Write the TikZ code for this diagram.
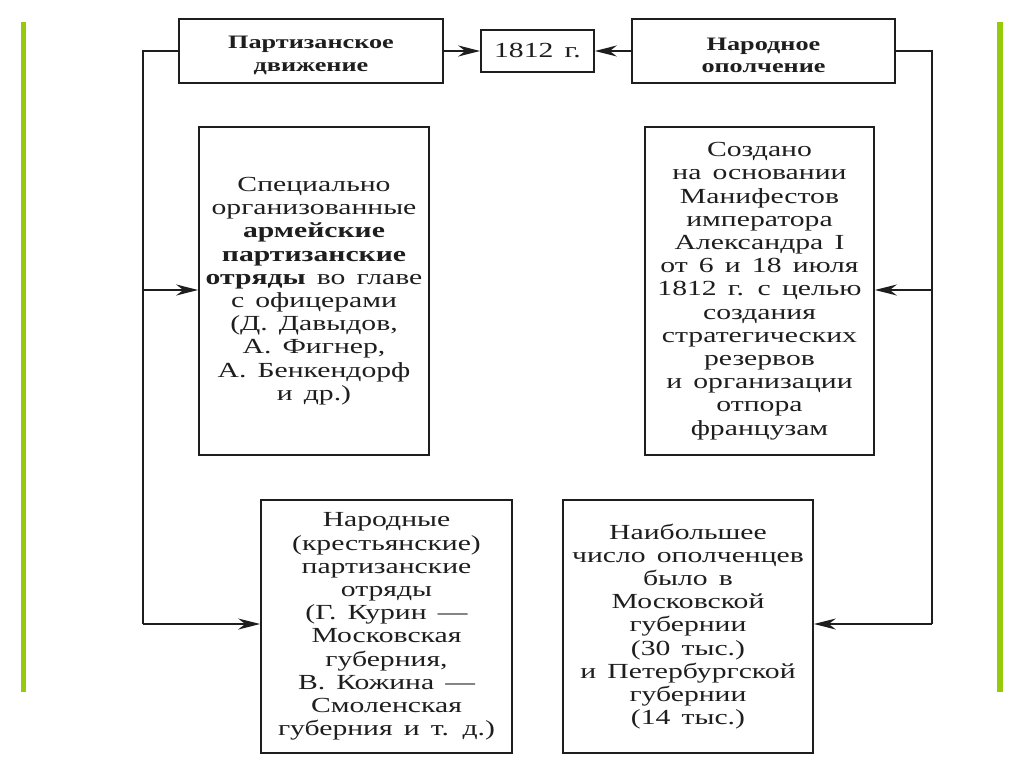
\documentclass[tikz,border=0pt]{standalone}
\usepackage{fontspec}
\setmainfont[FakeStretch=1.38,WordSpace=1.5]{Liberation Serif}
\usetikzlibrary{arrows.meta}
\definecolor{barcol}{RGB}{150,202,10}
\definecolor{ink}{RGB}{30,30,30}
\tikzset{
  box/.style={draw=ink, line width=1.6pt, inner sep=0pt, align=center, text=ink,
    font=\fontsize{21.5}{23.2}\selectfont},
  headbox/.style={box, font=\fontsize{19}{22.7}\selectfont\bfseries},
  conn/.style={draw=ink, line width=1.3pt},
  arr/.style={conn, -{Stealth[length=22pt,width=11pt,inset=7pt]}},
  bar/.style={draw=none, fill=barcol}
}
\begin{document}
\begin{tikzpicture}[x=1pt,y=-1pt]
\useasboundingbox[fill=white] (0,0) rectangle (1024,767);
\fill[barcol] (21,22) rectangle (26,692);
\fill[barcol] (997,22) rectangle (1003,692);

\node[headbox, minimum width=264pt, minimum height=64pt] (part) at (311,51) {\rule{0pt}{21pt}Партизанское\\движение};
\node[box, minimum width=113pt, minimum height=42pt] (year) at (537.5,51) {1812 г.};
\node[headbox, minimum width=263pt, minimum height=64pt] (opol) at (763.5,51) {\rule{0pt}{21pt}Народное\\ополчение};

\node[box, minimum width=230pt, minimum height=328pt] (arm) at (314,291)
  {Специально\\организованные\\\textbf{армейские}\\\textbf{партизанские}\\\textbf{отряды} во главе\\с офицерами\\(Д. Давыдов,\\А. Фигнер,\\А. Бенкендорф\\и др.)};
\node[box, minimum width=229pt, minimum height=328pt] (manif) at (759.5,291)
  {Создано\\на основании\\Манифестов\\императора\\Александра I\\от 6 и 18 июля\\1812 г. с целью\\создания\\стратегических\\резервов\\и организации\\отпора\\французам};
\node[box, minimum width=251pt, minimum height=253pt] (narod) at (386.5,626.5)
  {Народные\\(крестьянские)\\партизанские\\отряды\\(Г. Курин —\\Московская\\губерния,\\В. Кожина —\\Смоленская\\губерния и т. д.)};
\node[box, minimum width=250pt, minimum height=253pt] (naib) at (688,626.5)
  {Наибольшее\\число ополченцев\\было в\\Московской\\губернии\\(30 тыс.)\\и Петербургской\\губернии\\(14 тыс.)};

\coordinate (lt) at (143,51);
\coordinate (lm) at (143,290);
\coordinate (lb) at (143,624);
\coordinate (rt) at (932,51);
\coordinate (rm) at (932,290);
\coordinate (rb) at (932,624);

\draw[arr] (part.east) -- (year.west);
\draw[arr] (opol.west) -- (year.east);
\draw[conn] (part.west) -- (lt) -- (lb);
\draw[arr] (lm) -- (lm -| arm.west);
\draw[arr] (lb) -- (lb -| narod.west);
\draw[conn] (opol.east) -- (rt) -- (rb);
\draw[arr] (rm) -- (rm -| manif.east);
\draw[arr] (rb) -- (rb -| naib.east);
\end{tikzpicture}
\end{document}
